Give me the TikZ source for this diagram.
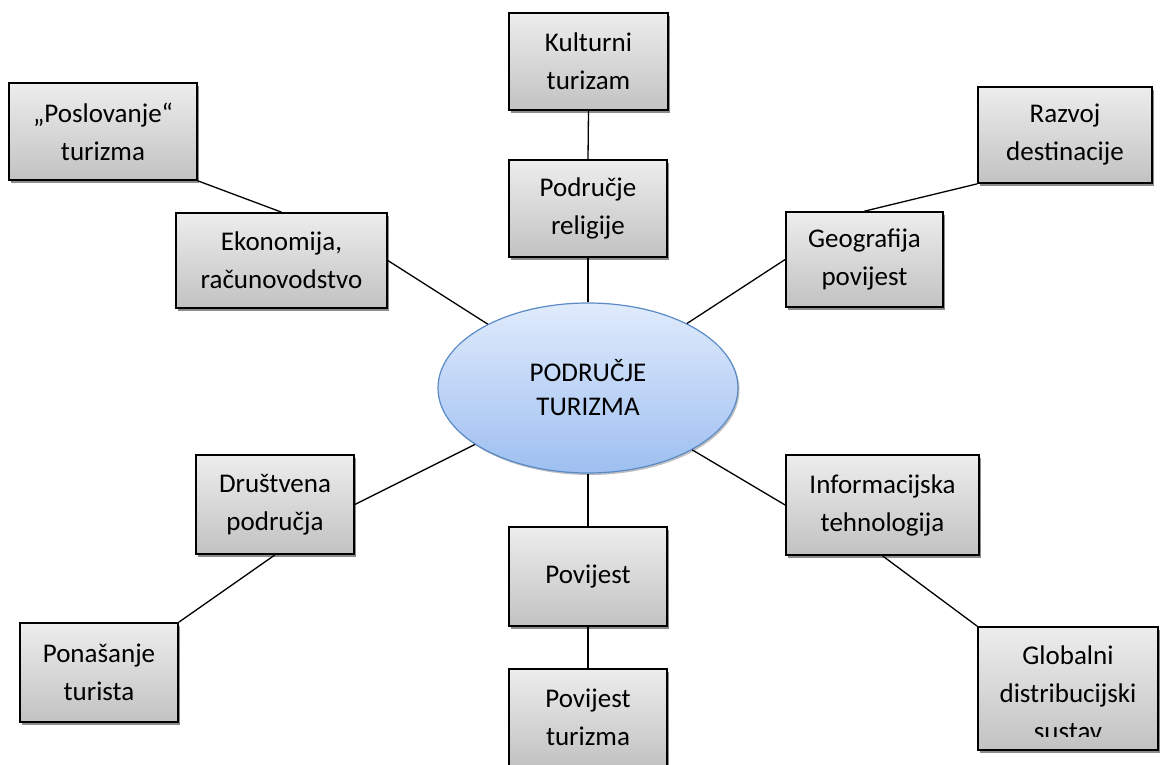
\documentclass[tikz,border=0pt]{standalone}
\usepackage{fontspec}
\setmainfont{Carlito}
\usetikzlibrary{shapes.geometric,shadows}
\definecolor{boxtop}{HTML}{EDEDED}
\definecolor{boxbot}{HTML}{C2C2C2}
\definecolor{hubtop}{HTML}{E0EBFC}
\definecolor{hubbot}{HTML}{9EBFF1}
\definecolor{hubline}{HTML}{5A8AC6}
\tikzset{
  lbl/.style={align=center, font=\fontsize{27}{38}\selectfont},
  box/.style={lbl, draw=black, line width=1.7pt, top color=boxtop, bottom color=boxbot,
    inner sep=0pt, minimum width=158pt, minimum height=97pt,
    drop shadow={shadow xshift=2pt, shadow yshift=-2.5pt, fill=black, opacity=0.45}},
  hub/.style={lbl, ellipse, draw=hubline, line width=1.2pt, top color=hubtop, bottom color=hubbot,
    inner sep=0pt, minimum width=300pt, minimum height=170pt,
    font=\fontsize{27}{34}\selectfont,
    drop shadow={shadow xshift=1.5pt, shadow yshift=-2pt, fill=black, opacity=0.25}},
  link/.style={line width=1.3pt}
}
\begin{document}
\begin{tikzpicture}[x=1pt,y=-1pt]
    \useasboundingbox (0,0) rectangle (1160,764);
    \node[hub] (cen) at (588,388) {PODRUČJE\\TURIZMA};
    \node[box, minimum width=159pt] (kult) at (588.5,61.5) {Kulturni\\turizam};
    \node[box] (relig) at (588,208.5) {Područje\\religije};
    \node[box, minimum width=188pt] (posl) at (103,131.5) {„Poslovanje“\\turizma};
    \node[box, minimum width=211pt, minimum height=95pt] (ekon) at (281.5,260.5) {Ekonomija,\\računovodstvo};
    \node[box, minimum width=174pt, minimum height=96pt] (razv) at (1065,135) {Razvoj\\destinacije};
    \node[box, minimum width=157pt, minimum height=95pt] (geog) at (864.5,259.5) {Geografija\\povijest};
    \node[box, minimum height=99pt] (drus) at (275,504.5) {Društvena\\područja};
    \node[box, minimum height=99pt] (pona) at (99,672.5) {Ponašanje\\turista};
    \node[box, minimum height=99pt] (povi) at (588,576.5) {Povijest};
    \node[box] (povt) at (588,717.5) {Povijest\\turizma};
    \node[box, minimum width=193pt, minimum height=100pt] (info) at (882.5,505) {Informacijska\\tehnologija};
    \node[box, minimum width=180pt, minimum height=123pt] (glob) at (1068,688.5) {};
    \begin{scope}
      \clip (980,630) rectangle (1156,736);
      \node[lbl] (globtxt) at (1068,693) {Globalni\\distribucijski\\sustav};
    \end{scope}
    \draw[link] (kult.south) -- (relig.north);
    \draw[link] (relig) -- (cen);
    \draw[link] (posl.south east) -- (ekon.north);
    \draw[link] (ekon.east) -- (cen);
    \draw[link] (razv.south west) -- (geog.north);
    \draw[link] (geog.west) -- (cen);
    \draw[link] (drus.east) -- (cen);
    \draw[link] (drus.south) -- (pona.north east);
    \draw[link] (cen) -- (povi);
    \draw[link] (povi) -- (povt);
    \draw[link] (info.west) -- (cen);
    \draw[link] (info.south) -- (glob.north west);
\end{tikzpicture}
\end{document}
